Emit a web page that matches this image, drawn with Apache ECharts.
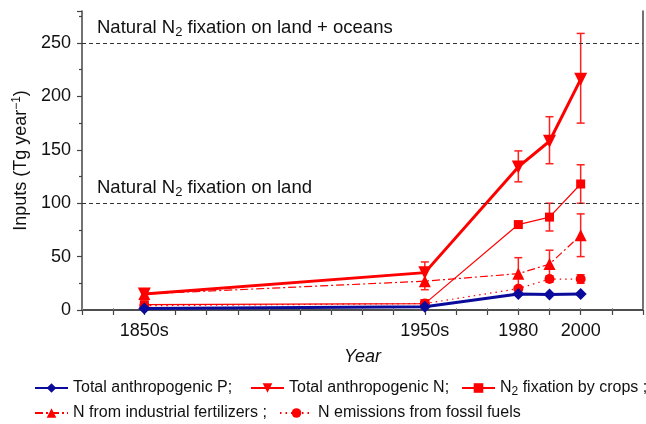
<!DOCTYPE html>
<html><head><meta charset="utf-8">
<script src="https://cdn.jsdelivr.net/npm/echarts@6/dist/echarts.min.js"></script>
<style>html,body{margin:0;padding:0;background:#fff}#c{width:646px;height:424px}</style>
</head><body><div id="c"></div>
<script>
// x positions (value axis, years) and their tick labels
const years = [1860, 1950, 1980, 1990, 2000];
const tickLabels = {1860: '1850s', 1950: '1950s', 1980: '1980', 2000: '2000'};

const totalP      = [1.5, 3, 15, 14.5, 15];
const totalN      = [15, 35, 134, 158, 216];
const cropsFix    = [5, 6, 80, 87, 118];
const fertilizers = [15, 27, 34, 43, 70];
const fossilFuels = [4, 6, 20, 29, 29];

// error bars: [year, low, high]
const errTotalN = [[1950, 19, 45], [1980, 120, 149], [1990, 137, 181], [2000, 175, 259]];
const errCrops  = [[1990, 74, 100], [2000, 100, 136]];
const errFert   = [[1980, 20, 49], [1990, 30, 56], [2000, 50, 90]];
const errFossil = [[1990, 26, 32], [2000, 25, 33]];

const refLines = [
  {value: 250, text: 'Natural N{sub|2} fixation on land + oceans'},
  {value: 100, text: 'Natural N{sub|2} fixation on land'}
];

const names = ['Total anthropogenic P;', 'Total anthropogenic N;', 'N2 fixation by crops ;',
               'N from industrial fertilizers ;', 'N emissions from fossil fuels'];

const RED = '#ff0000', BLUE = '#0b0b9b', ERR = '#ff2020';
const FONT = 'Liberation Sans, Arial, Helvetica, sans-serif';

function pairs(vals){ return years.map((y,i)=>[y, vals[i]]); }

function errSeries(data){
  return {
    type: 'custom', silent: true, z: 1,
    data: data, encode: {x: 0, y: [1, 2]},
    renderItem: function(params, api){
      const x = api.value(0);
      const lo = api.coord([x, api.value(1)]);
      const hi = api.coord([x, api.value(2)]);
      const cw = 4;
      const st = {stroke: ERR, lineWidth: 1.5};
      return {type: 'group', children: [
        {type: 'line', shape: {x1: lo[0], y1: lo[1], x2: hi[0], y2: hi[1]}, style: st},
        {type: 'line', shape: {x1: hi[0]-cw, y1: hi[1], x2: hi[0]+cw, y2: hi[1]}, style: st},
        {type: 'line', shape: {x1: lo[0]-cw, y1: lo[1], x2: lo[0]+cw, y2: lo[1]}, style: st}
      ]};
    }
  };
}

const chart = echarts.init(document.getElementById('c'), null, {renderer: 'canvas'});
const rich = {sub: {fontSize: 13, verticalAlign: 'bottom', padding: [9,0,0,0], fontFamily: FONT, color: '#111'}};
const legendRich = {sub: {fontSize: 12, padding: [8,0,0,0], fontFamily: FONT, color: '#111'}};

function legendAt(name, left, top){
  return {
    data: [name], left: left, top: top, itemWidth: 33, itemHeight: 12, itemGap: 4,
    selectedMode: false, padding: 0,
    textStyle: {fontFamily: FONT, fontSize: 16, color: '#111', rich: legendRich},
    formatter: function(n){ return n === names[2] ? 'N{sub|2} fixation by crops ;' : n; }
  };
}

chart.setOption({
  animation: false,
  grid: {left: 82, right: 1, top: 11, bottom: 114, containLabel: false},
  legend: [
    legendAt(names[0], 34, 380),
    legendAt(names[1], 250, 380),
    legendAt(names[2], 461, 380),
    legendAt(names[3], 34, 405),
    legendAt(names[4], 279, 405)
  ],
  xAxis: [{
    type: 'value', min: 1840, max: 2020, interval: 10,
    name: 'Year', nameLocation: 'middle', nameGap: 38,
    nameTextStyle: {fontFamily: FONT, fontSize: 18, fontStyle: 'italic', color: '#111'},
    axisLine: {show: true, lineStyle: {color: '#444', width: 1.5}},
    axisTick: {show: true, length: 5, lineStyle: {color: '#444', width: 1.2}},
    splitLine: {show: false},
    axisLabel: {fontFamily: FONT, fontSize: 18, color: '#111', margin: 12,
      formatter: v => tickLabels[v] || ''}
  }, {
    type: 'value', position: 'top', min: 1840, max: 2020, interval: 10,
    axisLine: {show: true, lineStyle: {color: '#444', width: 1.5}},
    axisTick: {show: true, length: 2, lineStyle: {color: '#888'}},
    axisLabel: {show: false}, splitLine: {show: false}
  }],
  yAxis: [{
    type: 'value', min: 0, max: 280, interval: 50,
    name: 'Inputs (Tg year{sup|−1})', nameLocation: 'middle', nameGap: 51, nameRotate: 90,
    nameTextStyle: {fontFamily: FONT, fontSize: 18, color: '#111',
      rich: {sup: {fontSize: 12, verticalAlign: 'top', padding: [0,0,8,0], fontFamily: FONT, color: '#111'}}},
    axisLine: {show: true, lineStyle: {color: '#444', width: 1.5}},
    axisTick: {show: true, length: 5, lineStyle: {color: '#444', width: 1.2}},
    minorTick: {show: true, splitNumber: 2, length: 3, lineStyle: {color: '#444', width: 1.2}},
    splitLine: {show: false},
    axisLabel: {fontFamily: FONT, fontSize: 18, color: '#111', margin: 11,
      formatter: v => (v % 50 === 0 ? String(v) : '')}
  }, {
    type: 'value', position: 'right', min: 0, max: 280, interval: 50,
    axisLine: {show: true, lineStyle: {color: '#444', width: 1.5}},
    axisTick: {show: false}, axisLabel: {show: false}, splitLine: {show: false}
  }],
  series: [
    errSeries(errTotalN), errSeries(errCrops), errSeries(errFert), errSeries(errFossil),
    {
      name: names[4], type: 'line', data: pairs(fossilFuels), z: 3,
      symbol: 'circle', symbolSize: 10, itemStyle: {color: RED},
      lineStyle: {color: RED, width: 1.2, type: [1.5, 4]},
      markLine: {
        silent: true, symbol: 'none', animation: false,
        lineStyle: {color: '#333', width: 1.2, type: [4, 3]},
        label: {show: true, position: 'insideStartTop', distance: [15, 4],
          fontFamily: FONT, fontSize: 18.5, color: '#111', rich: rich,
          formatter: p => p.data.label_text},
        data: refLines.map(r => ({yAxis: r.value, label_text: r.text}))
      }
    },
    {
      name: names[3], type: 'line', data: pairs(fertilizers), z: 3,
      symbol: 'triangle', symbolSize: 12, itemStyle: {color: RED},
      lineStyle: {color: RED, width: 1.2, type: [8, 3, 2, 3]}
    },
    {
      name: names[2], type: 'line', data: pairs(cropsFix), z: 3,
      symbol: 'rect', symbolSize: 9, itemStyle: {color: RED},
      lineStyle: {color: RED, width: 1.2}
    },
    {
      name: names[1], type: 'line', data: pairs(totalN), z: 4,
      symbol: 'triangle', symbolRotate: 180, symbolSize: 13, itemStyle: {color: RED},
      lineStyle: {color: RED, width: 3}
    },
    {
      name: names[0], type: 'line', data: pairs(totalP), z: 5,
      symbol: 'diamond', symbolSize: 12, itemStyle: {color: BLUE},
      lineStyle: {color: BLUE, width: 3}
    }
  ]
});
</script></body></html>
